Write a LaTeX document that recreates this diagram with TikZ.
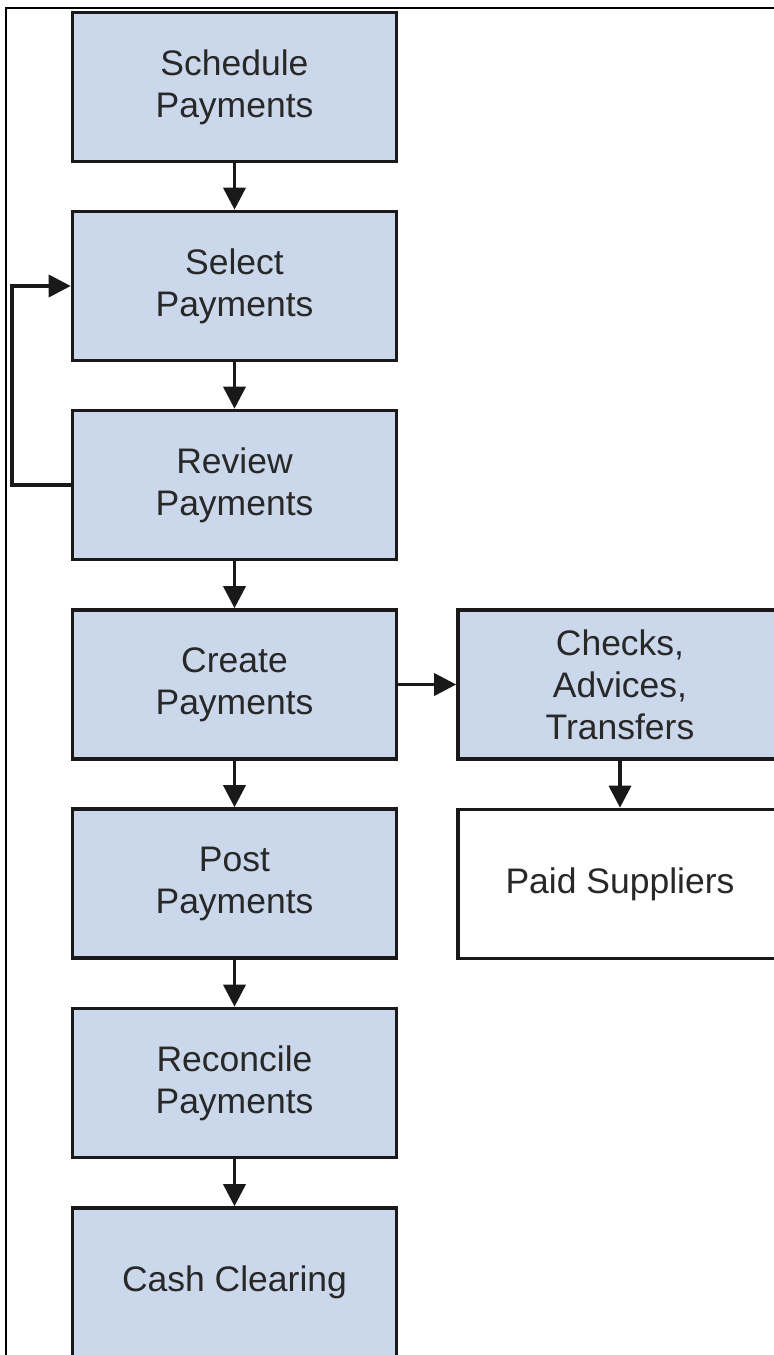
\documentclass[tikz,border=0pt]{standalone}
\usepackage{fontspec}
\setmainfont{Liberation Sans}
\usetikzlibrary{arrows.meta}
\definecolor{boxblue}{RGB}{203,216,235}
\definecolor{txt}{RGB}{40,40,40}
\begin{document}
\begin{tikzpicture}[x=0.5pt,y=-0.5pt,
  stepbox/.style={draw=black!90, line width=1.8pt, fill=boxblue, minimum width=162pt, minimum height=74.5pt, inner sep=0pt, align=center, font=\fontsize{17.75}{21}\selectfont, text=txt},
  plainbox/.style={stepbox, fill=white},
  flow/.style={draw=black!90, line width=1.8pt, -{Triangle[length=11pt,width=11pt]}}]
\useasboundingbox (0,0) rectangle (774,1355);
\clip (0,0) rectangle (774,1355);
\fill[white] (0,0) rectangle (774,1355);
\draw[line width=0.8pt] (6,1360) -- (6,8) -- (780,8);
\node[stepbox] (sched) at (234.5,87) {Schedule\\Payments};
\node[stepbox] (sel) at (234.5,286) {Select\\Payments};
\node[stepbox] (rev) at (234.5,485) {Review\\Payments};
\node[stepbox] (cre) at (234.5,684.5) {Create\\Payments};
\node[stepbox] (post) at (234.5,883.5) {Post\\Payments};
\node[stepbox] (rec) at (234.5,1083) {Reconcile\\Payments};
\node[stepbox] (cash) at (234.5,1282.5) {Cash Clearing};
\node[stepbox] (chk) at (620,684.5) {Checks,\\Advices,\\Transfers};
\node[plainbox] (paid) at (620,884) {Paid Suppliers};
\draw[flow] (sched) -- (sel);
\draw[flow] (sel) -- (rev);
\draw[flow] (rev) -- (cre);
\draw[flow] (cre) -- (post);
\draw[flow] (post) -- (rec);
\draw[flow] (rec) -- (cash);
\draw[flow] (cre) -- (chk);
\draw[flow] (chk) -- (paid);
\coordinate (loopx) at (12,485);
\draw[flow] (rev.west) -- (loopx) |- (sel.west);
\end{tikzpicture}
\end{document}
